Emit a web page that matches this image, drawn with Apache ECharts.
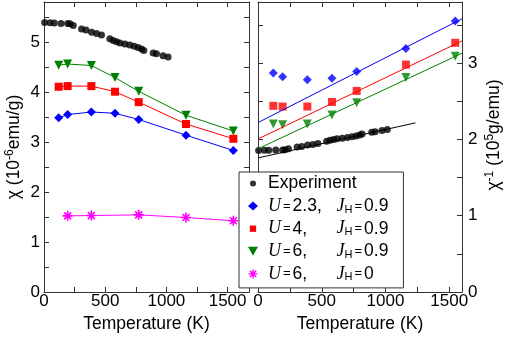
<!DOCTYPE html>
<html lang="en">
<head>
<meta charset="UTF-8">
<title>chi vs T</title>
<script src="https://cdn.jsdelivr.net/npm/echarts@6/dist/echarts.min.js"></script>
<style>
    html, body { margin: 0; padding: 0; background: #fff; }
    #chart { width: 507px; height: 338px; }
</style>
</head>
<body>
<div id="chart"></div>
<script>
    // experiment
    var expT   = [5, 50, 84, 139, 193, 212, 239, 307, 343, 389, 430, 470, 538, 565, 593, 620, 661, 701, 737, 769, 797, 816, 892, 919, 973, 1014];
    var expChi = [5.39, 5.386, 5.38, 5.37, 5.37, 5.366, 5.33, 5.26, 5.24, 5.196, 5.17, 5.14, 5.065, 5.03, 5.006, 4.98, 4.96, 4.94, 4.915, 4.89, 4.86, 4.83, 4.78, 4.765, 4.725, 4.70];
    var expInv = [1.855, 1.857, 1.859, 1.862, 1.862, 1.864, 1.876, 1.901, 1.908, 1.925, 1.934, 1.946, 1.974, 1.988, 1.998, 2.008, 2.016, 2.024, 2.035, 2.045, 2.058, 2.070, 2.092, 2.099, 2.116, 2.128];

    // calculations
    var modelT  = [120, 193, 387, 580, 774, 1160, 1547];
    var chiU23  = [3.484, 3.549, 3.60, 3.575, 3.45, 3.137, 2.83];
    var chiU4   = [4.105, 4.118, 4.118, 4.006, 3.797, 3.36, 3.065];
    var chiU6   = [4.535, 4.56, 4.53, 4.288, 4.013, 3.535, 3.22];
    var modelT0 = [193, 387, 774, 1160, 1547];
    var chiU6J0 = [1.523, 1.529, 1.543, 1.49, 1.425];

    var invU23 = [2.87, 2.82, 2.78, 2.80, 2.89, 3.19, 3.55];
    var invU4  = [2.44, 2.43, 2.43, 2.49, 2.635, 2.98, 3.265];
    var invU6  = [2.20, 2.19, 2.20, 2.32, 2.48, 2.81, 3.09];

    // Curie-Weiss fits (end points)
    var fitT      = [0, 1600];
    var fitU23    = [2.22, 3.58];
    var fitU4     = [2.005, 3.29];
    var fitU6     = [1.877, 3.128];
    var fitExpT   = [0, 1234];
    var fitExp    = [1.757, 2.216];

    var tLabels   = [0, 500, 1000, 1500];
    var chiLabels = [0, 1, 2, 3, 4, 5];
    var invLabels = [0, 1, 2, 3];

    function zip(xs, ys) {
        var out = [];
        for (var i = 0; i < xs.length; i++) out.push([xs[i], ys[i]]);
        return out;
    }

    var STAR = 'path://M-0.8,-5L0.8,-5L0.8,5L-0.8,5Z M-5,-0.8L5,-0.8L5,0.8L-5,0.8Z ' +
        'M-2.97,-4.1L4.1,2.97L2.97,4.1L-4.1,-2.97Z M-4.1,2.97L2.97,-4.1L4.1,-2.97L-2.97,4.1Z';
    var TRI_DOWN = 'path://M0,0L10,0L5,9Z';
    var DOT_SMALL = 'path://M0,0 M12,12 M6,2A4,4 0 1 1 6,10A4,4 0 1 1 6,2Z';
    var RECT_SMALL = 'path://M0,0 M10,10 M1.5,1.5L8.5,1.5L8.5,8.5L1.5,8.5Z';

    var FONT = 'Liberation Sans, Arial, sans-serif';
    var axisColor = '#333';

    function frameAxis(opt) {
        var labels = opt.labels;
        return {
            type: 'value',
            gridIndex: opt.grid,
            position: opt.position,
            min: opt.min,
            max: opt.max,
            interval: opt.interval,
            name: opt.name || '',
            nameLocation: 'middle',
            nameGap: opt.nameGap,
            nameRotate: opt.nameRotate,
            nameTextStyle: opt.nameTextStyle,
            axisLine: { show: true, onZero: false, lineStyle: { color: axisColor, width: 1 } },
            axisTick: { show: true, inside: true, length: 5, lineStyle: { color: axisColor } },
            splitLine: { show: false },
            axisLabel: {
                show: !!labels,
                margin: opt.margin,
                color: '#000',
                fontFamily: FONT,
                fontSize: 17,
                formatter: function (v) {
                    return labels && labels.indexOf(v) >= 0 ? String(v) : '';
                }
            }
        };
    }

    var titleRich = {
        n: { fontFamily: FONT, fontSize: 17.5, lineHeight: 20, color: '#000' },
        p: { fontFamily: FONT, fontSize: 12, lineHeight: 10, verticalAlign: 'top', color: '#000' }
    };

    var legendRich = {
        g: { fontSize: 10, lineHeight: 18, width: 5 },
        t: { fontFamily: FONT, fontSize: 17.5, lineHeight: 18, color: '#000' },
        u: { fontFamily: 'Liberation Serif, serif', fontStyle: 'italic', fontSize: 18, lineHeight: 18, width: 13, color: '#000' },
        j: { fontFamily: 'Liberation Serif, serif', fontStyle: 'italic', fontSize: 18, lineHeight: 18, color: '#000' },
        e: { fontFamily: FONT, fontSize: 13, lineHeight: 18, padding: [0, 2, 0, 2], color: '#000' },
        v: { fontFamily: FONT, fontSize: 17.5, lineHeight: 18, width: 44, color: '#000' },
        s: { fontFamily: FONT, fontSize: 11, lineHeight: 10, verticalAlign: 'bottom', color: '#000' }
    };
    var legendText = {
        'Experiment': '{g| }{t|Experiment}',
        'U23': '{g| }{u|U}{e|=}{v|2.3,}{j|J}{s|H}{e|=}{t|0.9}',
        'U4': '{g| }{u|U}{e|=}{v|4,}{j|J}{s|H}{e|=}{t|0.9}',
        'U6': '{g| }{u|U}{e|=}{v|6,}{j|J}{s|H}{e|=}{t|0.9}',
        'U6J0': '{g| }{u|U}{e|=}{v|6,}{j|J}{s|H}{e|=}{t|0}'
    };

    var chart = echarts.init(document.getElementById('chart'));

    var option = {
        animation: false,
        backgroundColor: '#fff',
        grid: [
            { left: 44, top: 2, width: 205, height: 295 },
            { left: 258, top: 2, width: 204, height: 295 }
        ],
        xAxis: [
            frameAxis({ grid: 0, position: 'bottom', min: 0, max: 1675, interval: 250, labels: tLabels, margin: 1,
                name: 'Temperature (K)', nameGap: 23, nameTextStyle: { fontFamily: FONT, fontSize: 17.5, color: '#000' } }),
            frameAxis({ grid: 0, position: 'top', min: 0, max: 1675, interval: 250 }),
            frameAxis({ grid: 1, position: 'bottom', min: 0, max: 1600, interval: 250, labels: tLabels, margin: 1,
                name: 'Temperature (K)', nameGap: 23, nameTextStyle: { fontFamily: FONT, fontSize: 17.5, color: '#000' } }),
            frameAxis({ grid: 1, position: 'top', min: 0, max: 1600, interval: 250 })
        ],
        yAxis: [
            frameAxis({ grid: 0, position: 'left', min: 0, max: 5.8, interval: 0.5, labels: chiLabels, margin: 4,
                name: '{n|χ (10}{p|-6}{n|emu/g)}', nameGap: 20, nameRotate: 90,
                nameTextStyle: { rich: titleRich } }),
            frameAxis({ grid: 0, position: 'right', min: 0, max: 5.8, interval: 0.5 }),
            frameAxis({ grid: 1, position: 'right', min: 0, max: 3.8, interval: 0.5, labels: invLabels, margin: 6,
                name: '{n|χ}{p|-1}{n| (10}{p|5}{n|g/emu)}', nameGap: 22, nameRotate: 90,
                nameTextStyle: { rich: titleRich, padding: [0, 0, 0, 24] } }),
            frameAxis({ grid: 1, position: 'left', min: 0, max: 3.8, interval: 0.5 })
        ],
        legend: {
            orient: 'vertical',
            left: 239,
            top: 172,
            padding: [2.5, 15, 5, 9],
            itemGap: 4.6,
            itemWidth: 10,
            itemHeight: 9,
            backgroundColor: '#fff',
            borderColor: '#333',
            borderWidth: 1,
            borderRadius: 0,
            selectedMode: false,
            data: [
                { name: 'Experiment', icon: DOT_SMALL },
                { name: 'U23', icon: 'diamond' },
                { name: 'U4', icon: RECT_SMALL },
                { name: 'U6', icon: TRI_DOWN },
                { name: 'U6J0', icon: STAR }
            ],
            formatter: function (name) { return legendText[name]; },
            textStyle: { rich: legendRich }
        },
        series: [
            // left panel: chi(T)
            { name: 'Experiment', type: 'scatter', xAxisIndex: 0, yAxisIndex: 0, data: zip(expT, expChi),
                symbol: 'circle', symbolSize: 7, itemStyle: { color: '#000' } },
            { name: 'U23', type: 'line', xAxisIndex: 0, yAxisIndex: 0, data: zip(modelT, chiU23),
                symbol: 'diamond', symbolSize: 9, showAllSymbol: true,
                itemStyle: { color: '#0000ff' }, lineStyle: { color: '#0000ff', width: 1 } },
            { name: 'U4', type: 'line', xAxisIndex: 0, yAxisIndex: 0, data: zip(modelT, chiU4),
                symbol: 'rect', symbolSize: 8, showAllSymbol: true,
                itemStyle: { color: '#ff0000' }, lineStyle: { color: '#ff0000', width: 1 } },
            { name: 'U6', type: 'line', xAxisIndex: 0, yAxisIndex: 0, data: zip(modelT, chiU6),
                symbol: TRI_DOWN, symbolSize: 9, showAllSymbol: true,
                itemStyle: { color: '#008000' }, lineStyle: { color: '#008000', width: 1 } },
            { name: 'U6J0', type: 'line', xAxisIndex: 0, yAxisIndex: 0, data: zip(modelT0, chiU6J0),
                symbol: STAR, symbolSize: 10, showAllSymbol: true,
                itemStyle: { color: '#ff00ff' }, lineStyle: { color: '#ff00ff', width: 1 } },

            // right panel: 1/chi(T) with linear fits
            { name: 'fitExp', type: 'line', xAxisIndex: 2, yAxisIndex: 2, data: zip(fitExpT, fitExp),
                symbol: 'none', lineStyle: { color: '#000', width: 1 } },
            { name: 'fitU23', type: 'line', xAxisIndex: 2, yAxisIndex: 2, data: zip(fitT, fitU23),
                symbol: 'none', lineStyle: { color: '#0000ff', width: 1 } },
            { name: 'fitU4', type: 'line', xAxisIndex: 2, yAxisIndex: 2, data: zip(fitT, fitU4),
                symbol: 'none', lineStyle: { color: '#ff0000', width: 1 } },
            { name: 'fitU6', type: 'line', xAxisIndex: 2, yAxisIndex: 2, data: zip(fitT, fitU6),
                symbol: 'none', lineStyle: { color: '#008000', width: 1 } },
            { name: 'Experiment', type: 'scatter', xAxisIndex: 2, yAxisIndex: 2, data: zip(expT, expInv),
                symbol: 'circle', symbolSize: 7, itemStyle: { color: '#000' } },
            { name: 'U23', type: 'scatter', xAxisIndex: 2, yAxisIndex: 2, data: zip(modelT, invU23),
                symbol: 'diamond', symbolSize: 9, itemStyle: { color: '#0000ff' } },
            { name: 'U4', type: 'scatter', xAxisIndex: 2, yAxisIndex: 2, data: zip(modelT, invU4),
                symbol: 'rect', symbolSize: 8, itemStyle: { color: '#ff0000' } },
            { name: 'U6', type: 'scatter', xAxisIndex: 2, yAxisIndex: 2, data: zip(modelT, invU6),
                symbol: TRI_DOWN, symbolSize: 9, itemStyle: { color: '#008000' } }
        ]
    };
    chart.setOption(option);
</script>
</body>
</html>
